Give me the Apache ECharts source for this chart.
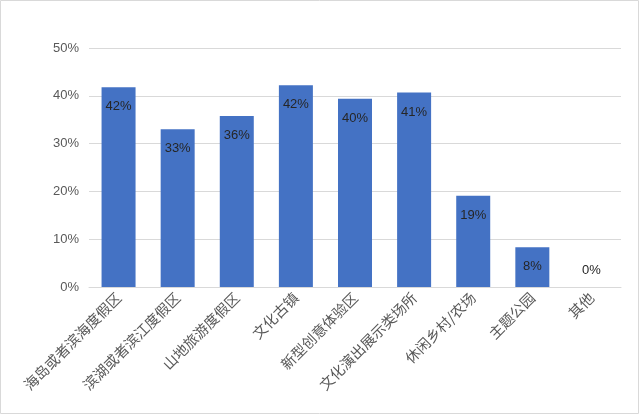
<!DOCTYPE html>
<html><head><meta charset="utf-8">
<script src="https://cdn.jsdelivr.net/npm/echarts@6/dist/echarts.min.js"></script>
<style>html,body{margin:0;padding:0;background:#fff}#c{width:640px;height:415px}</style>
</head><body><div id="c"></div>
<script>
const categories = ['海岛或者滨海度假区','滨湖或者滨江度假区','山地旅游度假区','文化古镇','新型创意体验区','文化演出展示类场所','休闲乡村/农场','主题公园','其他'];
const values = [41.8, 33.0, 35.8, 42.2, 39.4, 40.7, 19.1, 8.3, 0];
const labels = ['42%','33%','36%','42%','40%','41%','19%','8%','0%'];
const yTicks = {min: 0, max: 50, interval: 10};

const chart = echarts.init(document.getElementById('c'));
chart.setOption({
  animation: false,
  graphic: [{type:'rect', shape:{x:0.5,y:0.5,width:638,height:413}, style:{fill:'none', stroke:'#d9d9d9', lineWidth:1}}],
  grid: {left: 89, right: 19, top: 48, bottom: 128},
  xAxis: {
    type: 'category', data: categories,
    axisLine: {lineStyle: {color: '#d9d9d9'}},
    axisTick: {show: false},
    axisLabel: {rotate: 45, interval: 0, color: '#595959', fontSize: 14.5, fontFamily: 'Noto Sans CJK SC', margin: 8}
  },
  yAxis: {
    type: 'value', min: yTicks.min, max: yTicks.max, interval: yTicks.interval,
    axisLine: {show: false}, axisTick: {show: false},
    splitLine: {lineStyle: {color: '#d9d9d9'}},
    axisLabel: {color: '#595959', fontSize: 13, fontFamily: 'Liberation Sans', margin: 10, formatter: '{value}%'}
  },
  series: [{
    type: 'bar', barWidth: 34,
    itemStyle: {color: '#4472C4'},
    data: values.map((v, i) => v === 0
      ? {value: v, label: {position: 'top', distance: 10}}
      : {value: v}),
    label: {
      show: true, position: 'insideTop', distance: 13,
      color: '#262626', fontSize: 13, fontFamily: 'Liberation Sans',
      formatter: p => labels[p.dataIndex]
    }
  }]
});
</script></body></html>
